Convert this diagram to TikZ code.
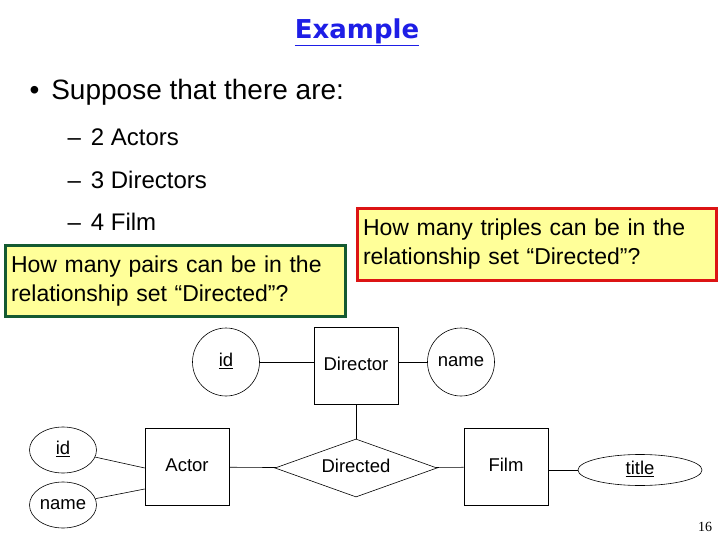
\documentclass[tikz,border=0pt]{standalone}
\usepackage{fontspec}
\setmainfont{Liberation Sans}
\newfontfamily\titlefont{DejaVu Sans}
\newfontfamily\numfont{Liberation Serif}
\usetikzlibrary{shapes.geometric}
\definecolor{tblue}{RGB}{30,30,230}
\definecolor{byellow}{RGB}{255,255,153}
\definecolor{bgreen}{RGB}{20,90,50}
\definecolor{bred}{RGB}{220,20,20}
\begin{document}
\begin{tikzpicture}[x=1pt,y=-1pt,
  erfont/.style={font=\fontsize{18.5}{20}\selectfont,text height=13pt,text depth=4pt},
  ent/.style={draw,line width=0.6pt,minimum width=84pt,minimum height=77pt,erfont},
  attr/.style={draw,ellipse,line width=0.6pt,minimum width=67pt,minimum height=68pt,inner sep=0pt,erfont},
  rel/.style={draw,diamond,aspect=2.8,line width=0.6pt,minimum width=162pt,minimum height=58pt,inner sep=0pt,erfont},
  conn/.style={line width=0.6pt},
  qbox/.style={fill=byellow,line width=3pt,align=left,inner sep=4pt,font=\fontsize{23}{29}\selectfont}]
\useasboundingbox (0,0) rectangle (720,540);
\node[font=\titlefont\bfseries\fontsize{26}{30}\selectfont,text=tblue] (title) at (357,32) {\underline{Example}};
\node[anchor=west,font=\fontsize{28}{32}\selectfont] (b1) at (26,92) {•\hspace{12pt}Suppose that there are:};
\node[anchor=west,font=\fontsize{24}{28}\selectfont] (s1) at (64,137) {–\hspace{10pt}2 Actors};
\node[anchor=west,font=\fontsize{24}{28}\selectfont] (s2) at (64,180) {–\hspace{10pt}3 Directors};
\node[anchor=west,font=\fontsize{24}{28}\selectfont] (s3) at (64,222) {–\hspace{10pt}4 Film};
\node[qbox,draw=bgreen,minimum width=340pt,minimum height=71pt,text width=328pt] (q1) at (175,281) {How many pairs can be in the\\relationship set “Directed”?};
\node[qbox,draw=bred,minimum width=359pt,minimum height=71pt,text width=347pt] (q2) at (536.5,244.5) {How many triples can be in the\\relationship set “Directed”?};
\node[ent] (dir) at (356,365.5) {Director};
\node[ent] (act) at (187,467) {Actor};
\node[ent] (film) at (506,467) {Film};
\node[rel] (drd) at (356,468) {Directed};
\node[attr] (did) at (226,362) {\underline{id}};
\node[attr] (dname) at (461,362) {name};
\node[attr,minimum height=46pt] (aid) at (63,450) {\underline{id}};
\node[attr,minimum height=46pt] (aname) at (63,505) {name};
\node[attr,minimum width=124pt,minimum height=31pt] (ftitle) at (640,470) {\underline{title}};
\draw[conn] (did) -- (dir.west |- did);
\draw[conn] (dir.east |- dname) -- (dname);
\draw[conn] (dir) -- (drd);
\draw[conn] (act) -- (drd);
\draw[conn] (drd) -- (film);
\draw[conn] (film.east |- ftitle) -- (ftitle);
\draw[conn] (aid) -- ([yshift=-1pt]act.west);
\draw[conn] (aname) -- ([yshift=-22pt]act.west);
\node[font=\numfont\fontsize{14}{16}\selectfont] (pg) at (705,527) {16};
\end{tikzpicture}
\end{document}
